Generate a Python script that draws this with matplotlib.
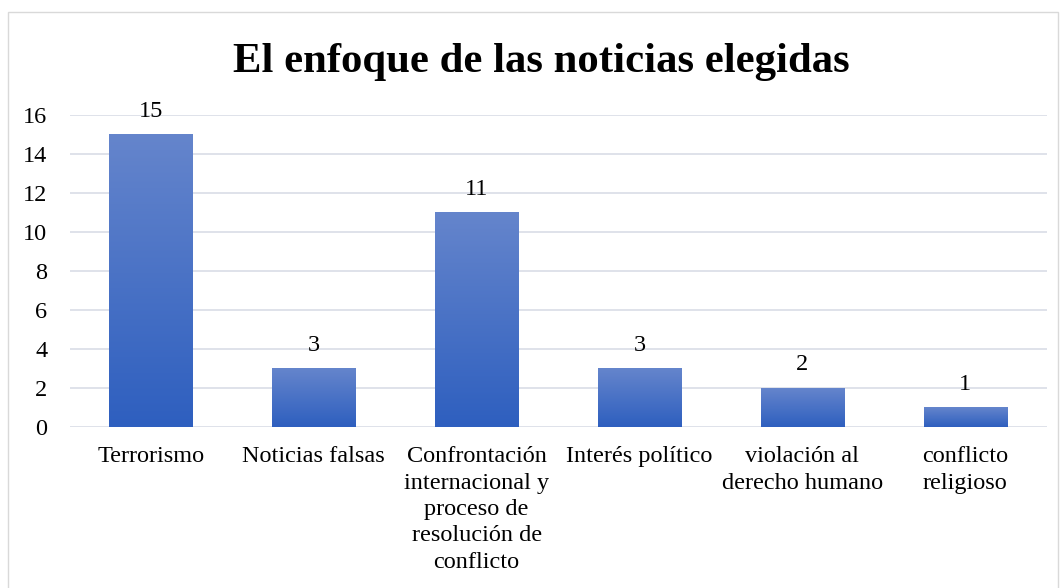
import matplotlib.pyplot as plt
import numpy as np
from matplotlib.colors import LinearSegmentedColormap
from matplotlib.patches import Rectangle

categories = ["Terrorismo", "Noticias falsas",
              "Confrontación\ninternacional y\nproceso de\nresolución de\nconflicto",
              "Interés político", "violación al\nderecho humano", "conflicto\nreligioso"]
values = [15, 3, 11, 3, 2, 1]

plt.rcParams['font.family'] = ['Liberation Serif', 'DejaVu Serif']

fig = plt.figure(figsize=(10.63, 5.88), dpi=100)
fig.patches.append(Rectangle((8 / 1063, -0.1), 1050 / 1063, 1 - 12 / 588 + 0.1,
                             transform=fig.transFigure, fill=False,
                             edgecolor="#d9d9d9", linewidth=1))

ax = fig.add_axes([69.5 / 1063, 1 - 427 / 588, 977 / 1063, 312 / 588])
x = np.arange(len(categories))
bars = ax.bar(x, values, width=0.51, color="none", zorder=2)

cmap = LinearSegmentedColormap.from_list("g", ["#2e5fbf", "#6585cc"])
grad = np.linspace(0, 1, 256).reshape(-1, 1)
for b in bars:
    x0, w, h = b.get_x(), b.get_width(), b.get_height()
    ax.imshow(grad, cmap=cmap, origin="lower", aspect="auto",
              extent=(x0, x0 + w, 0, h), zorder=2)

for xi, v in zip(x, values):
    ax.text(xi, v + 0.65, str(v), ha="center", va="bottom", fontsize=17.5)

ax.set_xlim(-0.5, len(categories) - 0.5)
ax.set_ylim(0, 16)
ax.set_yticks(range(0, 17, 2))
ax.set_xticks(x)
ax.set_xticklabels(categories, fontsize=17.5, va="top", linespacing=1.33)
ax.tick_params(axis="y", labelsize=17.5, length=0, pad=16)
ax.tick_params(axis="x", length=0, pad=14)
for lbl in ax.get_yticklabels():
    lbl.set_horizontalalignment("right")
ax.grid(axis="y", color="#d9dde6", linewidth=1.2, zorder=0)
ax.set_axisbelow(True)
for s in ax.spines.values():
    s.set_visible(False)

fig.text(0.509, 1 - 62 / 588, "El enfoque de las noticias elegidas",
         ha="center", va="center", fontsize=30.8, fontweight="bold")

fig.savefig("out.png", dpi=100)
